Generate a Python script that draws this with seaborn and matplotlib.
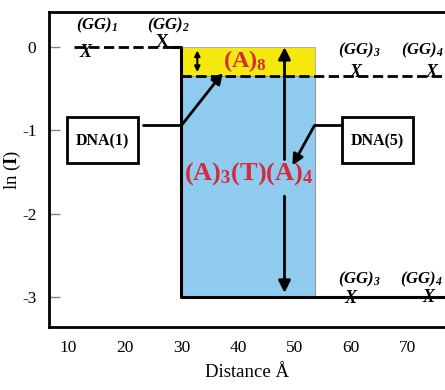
import matplotlib
matplotlib.use('Agg')
import matplotlib.pyplot as plt
import seaborn as sns
from matplotlib.patches import Rectangle

# energy levels (ln I) and positions (Angstrom)
band_x = [30, 53.5]
top_level = 0.0
mid_level = -0.35
low_level = -3.0

left_dash_x = [11, 28.5]
right_dash_x = [30, 76.5]
outline_x = [28.5, 30, 30, 77.5]
outline_y = [0.0, 0.0, -3.0, -3.0]

# GG sites: marker positions and labels
gg_x = [13.0, 26.6, 60.8, 74.1, 59.9, 73.7]
gg_y = [-0.07, 0.06, -0.31, -0.31, -3.02, -3.0]
gg_lab_x = [15.1, 27.7, 61.5, 72.5, 61.5, 72.3]
gg_lab_y = [0.26, 0.26, -0.04, -0.04, -2.79, -2.79]
gg_names = ['1', '2', '3', '4', '3', '4']

x_ticks = [10, 20, 30, 40, 50, 60, 70]
y_ticks = [0, -1, -2, -3]

red = '#d42b3c'

sns.set_style('white')
plt.rcParams['font.family'] = ['Liberation Serif', 'DejaVu Serif']
plt.rcParams['text.color'] = 'black'
plt.rcParams['axes.labelcolor'] = 'black'
plt.rcParams['xtick.color'] = 'black'
plt.rcParams['ytick.color'] = 'black'
plt.rcParams['mathtext.fontset'] = 'custom'
plt.rcParams['mathtext.rm'] = 'Liberation Serif:italic:bold'
plt.rcParams['mathtext.it'] = 'Liberation Serif:italic:bold'
plt.rcParams['mathtext.bf'] = 'Liberation Serif:bold'

fig = plt.figure(figsize=(4.45, 3.9), dpi=100)
ax = fig.add_axes([0.110, 0.1615, 0.892, 0.8075])

# coloured bands
ax.fill_between(band_x, [mid_level] * 2, [top_level] * 2, color='#f4e80c',
                edgecolor='#aaaaaa', linewidth=0.6, zorder=1)
ax.fill_between(band_x, [low_level] * 2, [mid_level] * 2, color='#8ecbee',
                edgecolor='#888888', linewidth=0.6, zorder=1)

# level lines
sns.lineplot(x=left_dash_x, y=[top_level] * 2, ax=ax, color='black', lw=2,
             linestyle='--', dashes=(3.2, 2.4), zorder=3)
sns.lineplot(x=right_dash_x, y=[mid_level] * 2, ax=ax, color='black', lw=2,
             linestyle='--', dashes=(3.2, 2.4), zorder=3)
sns.lineplot(x=outline_x, y=outline_y, ax=ax, color='black', lw=2.2,
             sort=False, estimator=None, zorder=3)

# GG markers and labels
for i in range(len(gg_x)):
    if i == 1:
        ax.text(gg_x[i], gg_y[i], 'X', fontsize=13, fontweight='bold',
                ha='center', va='center', zorder=4)
    else:
        ax.text(gg_x[i], gg_y[i], 'X', fontsize=13, fontweight='bold',
                fontstyle='italic', ha='center', va='center', zorder=4)
    ax.text(gg_lab_x[i], gg_lab_y[i], r'$\mathrm{(GG)}_{\mathrm{' + gg_names[i] + '}}$',
            fontsize=12, ha='center', va='center', zorder=4)

# DNA boxes
for bx, name in [(9.8, 'DNA(1)'), (58.3, 'DNA(5)')]:
    ax.add_patch(Rectangle((bx, -1.39), 12.6, 0.55, fill=False, lw=2,
                           edgecolor='black', zorder=4))
    ax.text(bx + 6.3, -1.13, name, fontsize=11.5, fontweight='bold',
            ha='center', va='center', zorder=5)

# connectors
ax.plot([23.2, 30], [-0.94, -0.94], color='black', lw=2, zorder=4)
ax.annotate('', xy=(37.3, -0.31), xytext=(30, -0.94),
            arrowprops=dict(arrowstyle='-|>', color='black', lw=2,
                            mutation_scale=16, shrinkA=0, shrinkB=0), zorder=5)
ax.plot([53.5, 58.3], [-0.94, -0.94], color='black', lw=2, zorder=4)
ax.annotate('', xy=(49.6, -1.42), xytext=(53.5, -0.94),
            arrowprops=dict(arrowstyle='-|>', color='black', lw=2,
                            mutation_scale=16, shrinkA=0, shrinkB=0), zorder=5)

# vertical arrows
ax.annotate('', xy=(48.2, 0.0), xytext=(48.2, -1.35),
            arrowprops=dict(arrowstyle='-|>', color='black', lw=2,
                            mutation_scale=18, shrinkA=0, shrinkB=0), zorder=5)
ax.annotate('', xy=(48.2, -2.95), xytext=(48.2, -1.79),
            arrowprops=dict(arrowstyle='-|>', color='black', lw=2,
                            mutation_scale=18, shrinkA=0, shrinkB=0), zorder=5)
ax.annotate('', xy=(32.8, -0.30), xytext=(32.8, -0.04),
            arrowprops=dict(arrowstyle='<|-|>', color='black', lw=1.5,
                            mutation_scale=8, shrinkA=0, shrinkB=0), zorder=5)

# red labels
ax.text(41.3, -0.17, r'$\mathbf{(A)}_{\mathbf{8}}$', color=red, fontsize=17.5,
        ha='center', va='center', zorder=6)
ax.text(41.9, -1.52, r'$\mathbf{(A)}_{\mathbf{3}}\mathbf{(T)(A)}_{\mathbf{4}}$',
        color=red, fontsize=19, ha='center', va='center', zorder=6)

ax.set_xlim(6.6, 76.7)
ax.set_ylim(-3.36, 0.42)
ax.set_xticks(x_ticks)
ax.set_yticks(y_ticks)
ax.set_xticklabels([str(v) for v in x_ticks], fontsize=12.5)
ax.set_yticklabels([str(v) for v in y_ticks], fontsize=12.5)
ax.tick_params(axis='x', length=0, pad=9)
ax.tick_params(axis='y', direction='in', length=8, width=1, color='#888888',
               labelcolor='black', pad=9, left=True)
ax.set_xlabel('Distance Å', fontsize=13.5, labelpad=6)
ax.set_ylabel(r'ln ($\mathbf{I}$)', fontsize=13.5, labelpad=-1)

for s in ['left', 'bottom', 'top']:
    ax.spines[s].set_linewidth(2)
    ax.spines[s].set_color('black')
ax.spines['right'].set_visible(False)

fig.savefig('out.png', dpi=100)
